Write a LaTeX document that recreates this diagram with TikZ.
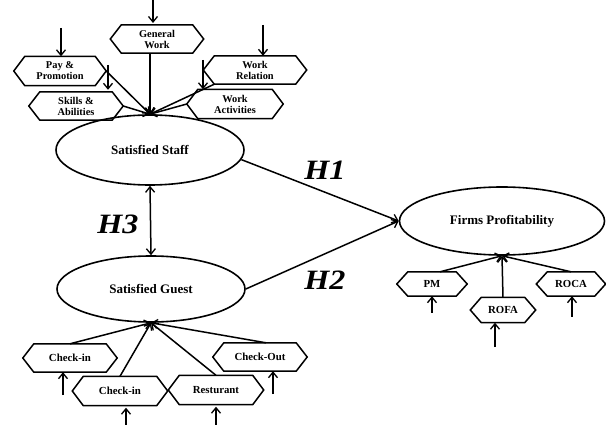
\documentclass[tikz,border=0pt]{standalone}
\usepackage{fontspec}
\setmainfont{Liberation Serif}
\usetikzlibrary{arrows.meta,shapes.geometric}
\tikzset{
  tip/.tip={Straight Barb[length=5.5pt,width=9pt,line width=1.3pt]},
  arr/.style={line width=1.5pt,-tip},
  arrb/.style={line width=1.5pt,tip-tip},
  hexlbl/.style={inner sep=0pt,align=center,font=\bfseries\fontsize{10.4}{11}\selectfont},
  hexlblb/.style={hexlbl,font=\bfseries\fontsize{10.8}{11}\selectfont},
  hexline/.style={line width=1.5pt,line join=miter},
  latent/.style={ellipse,draw,line width=1.6pt,inner sep=0pt,font=\bfseries\fontsize{13}{14}\selectfont},
  hyp/.style={font=\bfseries\itshape\fontsize{28}{30}\selectfont,inner sep=0pt}
}
\newcommand\hexn[7][hexlbl]{%
  \node[#1,minimum width=#5pt,minimum height=#6pt] (#2) at (#3,#4) {#7};
  \draw[hexline] (#2.west) -- ([xshift=11pt]#2.north west) -- ([xshift=-11pt]#2.north east)
    -- (#2.east) -- ([xshift=-11pt]#2.south east) -- ([xshift=11pt]#2.south west) -- cycle;}
\begin{document}
\begin{tikzpicture}[x=1pt,y=-1pt]
\useasboundingbox (0,0) rectangle (606,425);
% latent variables
\node[latent,minimum width=188pt,minimum height=70pt] (staff) at (150,150) {Satisfied Staff};
\node[latent,minimum width=188pt,minimum height=66pt] (guest) at (151,289) {Satisfied Guest};
\node[latent,minimum width=205pt,minimum height=68pt] (firms) at (502,221) {Firms Profitability};
% staff indicators
\hexn{gen}{157}{39}{93}{28}{General\\Work}
\hexn{pay}{60}{71}{92}{29}{Pay \&\\Promotion}
\hexn{skl}{76}{106}{94}{28}{Skills \&\\Abilities}
\hexn{rel}{255}{70}{103}{28}{Work\\Relation}
\hexn{act}{235}{104}{96}{29}{Work\\Activities}
% guest indicators
\hexn[hexlblb]{ci1}{70}{358}{94}{28}{Check-in}
\hexn[hexlblb]{ci2}{120}{391}{95}{29}{Check-in}
\hexn[hexlblb]{res}{216}{390}{95}{29}{Resturant}
\hexn[hexlblb]{co}{260}{357}{94}{28}{Check-Out}
% firms indicators
\hexn[hexlblb]{pm}{432}{284}{70}{24}{PM}
\hexn[hexlblb]{rofa}{503}{310}{65}{25}{ROFA}
\hexn[hexlblb]{roca}{571}{284}{69}{24}{ROCA}
% error arrows (free ends)
\coordinate (eg) at (153,0);
\coordinate (ep) at (61,28);
\coordinate (es) at (108,65);
\coordinate (er) at (263,25);
\coordinate (ea) at (203,60);
\draw[arr] (eg) -- (153,23);
\draw[arr] (ep) -- (ep |- pay.north);
\draw[arr] (es) -- ([yshift=2pt]es |- skl.north);
\draw[arr] (er) -- (er |- rel.north);
\draw[arr] (ea) -- (ea |- act.north);
\coordinate (e1) at (63,395);
\coordinate (e2) at (126,425);
\coordinate (e3) at (216,425);
\coordinate (e4) at (273,394);
\draw[arr] (e1) -- (e1 |- ci1.south);
\draw[arr] (e2) -- ([yshift=-2pt]e2 |- ci2.south);
\draw[arr] (e3) -- ([yshift=-2pt]e3 |- res.south);
\draw[arr] (e4) -- (e4 |- co.south);
\coordinate (e5) at (432,313);
\coordinate (e6) at (495,347);
\coordinate (e7) at (572,317);
\draw[arr] (e5) -- (e5 |- pm.south);
\draw[arr] (e6) -- (e6 |- rofa.south);
\draw[arr] (e7) -- (e7 |- roca.south);
% indicator connectors
\draw[arr] (staff.north |- gen.south) -- (staff.north);
\draw[arr] (pay.east) -- (staff.north);
\draw[arr] (skl.east) -- (staff.north);
\draw[arr] ([xshift=11pt]rel.south west) -- (staff.north);
\draw[arr] (act.west) -- (staff.north);
\draw[arr] (ci1.north) -- (guest.south);
\draw[arr] (ci2.north) -- (guest.south);
\draw[arr] (res.north) -- (guest.south);
\draw[arr] ([xshift=6pt]co.north) -- (guest.south);
\draw[arr] ([xshift=8pt]pm.north) -- (firms.south);
\draw[arr] (rofa.north) -- (firms.south);
\draw[arr] (roca.north) -- (firms.south);
% structural paths
\draw[arrb] (staff.south) -- (guest.north);
\draw[arr] (staff.-6) -- (firms.west);
\draw[arr] (guest.east) -- (firms.west);
\node[hyp] (h1) at (325,170) {\scalebox{1.15}[1]{H1}};
\node[hyp] (h2) at (325,280) {\scalebox{1.15}[1]{H2}};
\node[hyp] (h3) at (118,224) {\scalebox{1.15}[1]{H3}};
\end{tikzpicture}
\end{document}
